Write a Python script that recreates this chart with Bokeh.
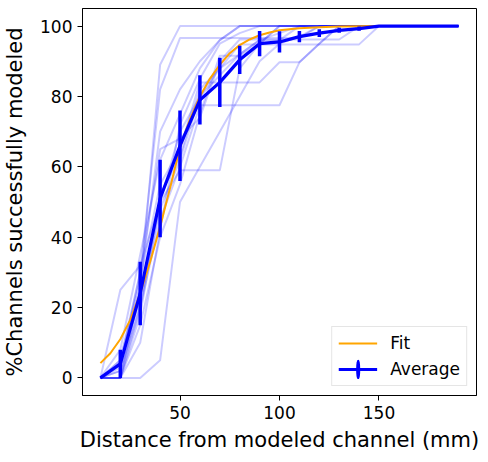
import numpy as np
from bokeh.plotting import figure
from bokeh.models import Range1d, FixedTicker, Legend, LegendItem
from bokeh.embed import file_html
from bokeh.resources import INLINE

# ---- data ----
distance = [10, 20, 30, 40, 50, 60, 70, 80, 90, 100, 110, 120, 130, 140, 150, 160, 170, 180, 190]

trace_01 = [0, 25, 32, 50, 70, 80, 86, 92, 96, 98, 100, 100, 100, 100, 100, 100, 100, 100, 100]
trace_02 = [0, 0, 0, 5, 50, 60, 70, 80, 90, 95, 97, 100, 100, 100, 100, 100, 100, 100, 100]
trace_03 = [0, 0, 25, 89, 100, 100, 100, 100, 100, 100, 100, 100, 100, 100, 100, 100, 100, 100, 100]
trace_04 = [0, 3, 30, 82, 96.6, 96.6, 96.6, 96.6, 96.6, 96.6, 96.6, 100, 100, 100, 100, 100, 100, 100, 100]
trace_05 = [0, 0, 20, 45, 60, 77.5, 77.5, 77.5, 77.5, 77.5, 89.7, 95, 100, 100, 100, 100, 100, 100, 100]
trace_06 = [0, 5, 28, 55, 65, 84, 84, 84, 84, 89.7, 89.7, 95, 100, 100, 100, 100, 100, 100, 100]
trace_07 = [0, 0, 15, 40, 55, 75, 91.6, 91.6, 95, 100, 100, 100, 100, 100, 100, 100, 100, 100, 100]
trace_08 = [0, 2, 22, 48, 62, 80, 88, 94.8, 94.8, 94.8, 94.8, 94.8, 94.8, 94.8, 100, 100, 100, 100, 100]
trace_09 = [0, 8, 35, 62, 75, 88, 96, 100, 100, 100, 100, 100, 100, 100, 100, 100, 100, 100, 100]
trace_10 = [0, 0, 18, 50, 59, 59, 59, 88, 95, 100, 100, 100, 100, 100, 100, 100, 100, 100, 100]
trace_11 = [0, 5, 30, 65, 68, 74, 90, 96.2, 96.2, 96.2, 96.2, 96.2, 96.2, 100, 100, 100, 100, 100, 100]
trace_12 = [0, 0, 10, 42, 72, 85, 95, 98, 100, 100, 100, 100, 100, 100, 100, 100, 100, 100, 100]
trace_13 = [0, 4, 26, 70, 82, 90, 96, 100, 100, 100, 100, 100, 100, 100, 100, 100, 100, 100, 100]
trace_14 = [0, 2, 20, 52, 63, 82, 88, 92, 96, 96, 100, 100, 100, 100, 100, 100, 100, 100, 100]

avg_mean = [0, 4, 24, 51, 66, 79, 84, 90.4, 95, 95.5, 97, 98, 98.8, 99.3, 100, 100, 100, 100, 100]
avg_err = [0, 4, 9, 11, 10, 7, 7, 4, 3.6, 3, 1.6, 1.1, 0.7, 0.6, 0, 0, 0, 0, 0]

fit_x = [10, 15, 20, 25, 30, 35, 40, 45, 50, 55, 60, 65, 70, 75, 80, 85, 90, 95, 100, 110, 120, 130, 140, 150]
fit_y = [4.2, 7, 11, 16.5, 24, 33, 43, 54, 65.5, 73.5, 80, 85, 89, 92.3, 94.6, 96.2, 97.4, 98.2, 98.8, 99.4, 99.7, 99.85, 99.95, 100]

x_ticks = [50, 100, 150]
y_ticks = [0, 20, 40, 60, 80, 100]

traces = [trace_01, trace_02, trace_03, trace_04, trace_05, trace_06, trace_07,
          trace_08, trace_09, trace_10, trace_11, trace_12, trace_13, trace_14]

FONT = "DejaVu Sans"

p = figure(width=480, height=454, output_backend="svg", toolbar_location=None,
           x_range=Range1d(1, 199), y_range=Range1d(-5, 105),
           min_border_left=82, min_border_right=4, min_border_top=8, min_border_bottom=57)

p.background_fill_color = "white"
p.border_fill_color = "white"
p.outline_line_color = "black"
p.outline_line_width = 1
p.xgrid.visible = False
p.ygrid.visible = False

for ax in (p.xaxis[0], p.yaxis[0]):
    ax.axis_line_color = "black"
    ax.major_tick_line_color = "black"
    ax.major_tick_out = 5
    ax.major_tick_in = 0
    ax.minor_tick_line_color = None
    ax.major_label_text_font = FONT
    ax.major_label_text_font_size = "17px"
    ax.major_label_text_color = "black"
    ax.axis_label_text_font = FONT
    ax.axis_label_text_font_size = "21px"
    ax.axis_label_text_font_style = "normal"
    ax.axis_label_text_color = "black"
    ax.major_label_standoff = 5

p.xaxis.ticker = FixedTicker(ticks=x_ticks)
p.yaxis.ticker = FixedTicker(ticks=y_ticks)
p.xaxis.axis_label = "Distance from modeled channel (mm)"
p.yaxis.axis_label = "%Channels successfully modeled"
p.xaxis.axis_label_standoff = 6
p.yaxis.axis_label_standoff = 10

for tr in traces:
    p.line(distance, tr, line_color="blue", line_alpha=0.2, line_width=2)

fit_r = p.line(fit_x, fit_y, line_color="orange", line_width=2)

mean = np.array(avg_mean, dtype=float)
err = np.array(avg_err, dtype=float)
p.segment(x0=distance, y0=mean - err, x1=distance, y1=mean + err,
          line_color="blue", line_width=3.5)
avg_r = p.line(distance, avg_mean, line_color="blue", line_width=3.2)
# narrow vertical ellipse placed outside the visible range: only used to draw
# the vertical error-bar stroke of the "Average" legend symbol
ell_r = p.ellipse(x=[-1000], y=[-1000], width=0.6, height=16,
                  width_units="screen", height_units="screen",
                  fill_color=None, line_color="blue", line_width=3.5)

legend = Legend(items=[LegendItem(label="Fit", renderers=[fit_r]),
                       LegendItem(label="Average", renderers=[avg_r, ell_r])],
                location="bottom_right")
legend.label_text_font = FONT
legend.label_text_font_size = "17px"
legend.label_text_color = "black"
legend.glyph_width = 39
legend.glyph_height = 20
legend.label_standoff = 13
legend.padding = 6
legend.spacing = 6
legend.margin = 9
legend.border_line_color = "#cccccc"
legend.border_line_width = 1
legend.background_fill_alpha = 0.8
p.add_layout(legend)

open("out.html", "w").write(file_html(p, INLINE))
